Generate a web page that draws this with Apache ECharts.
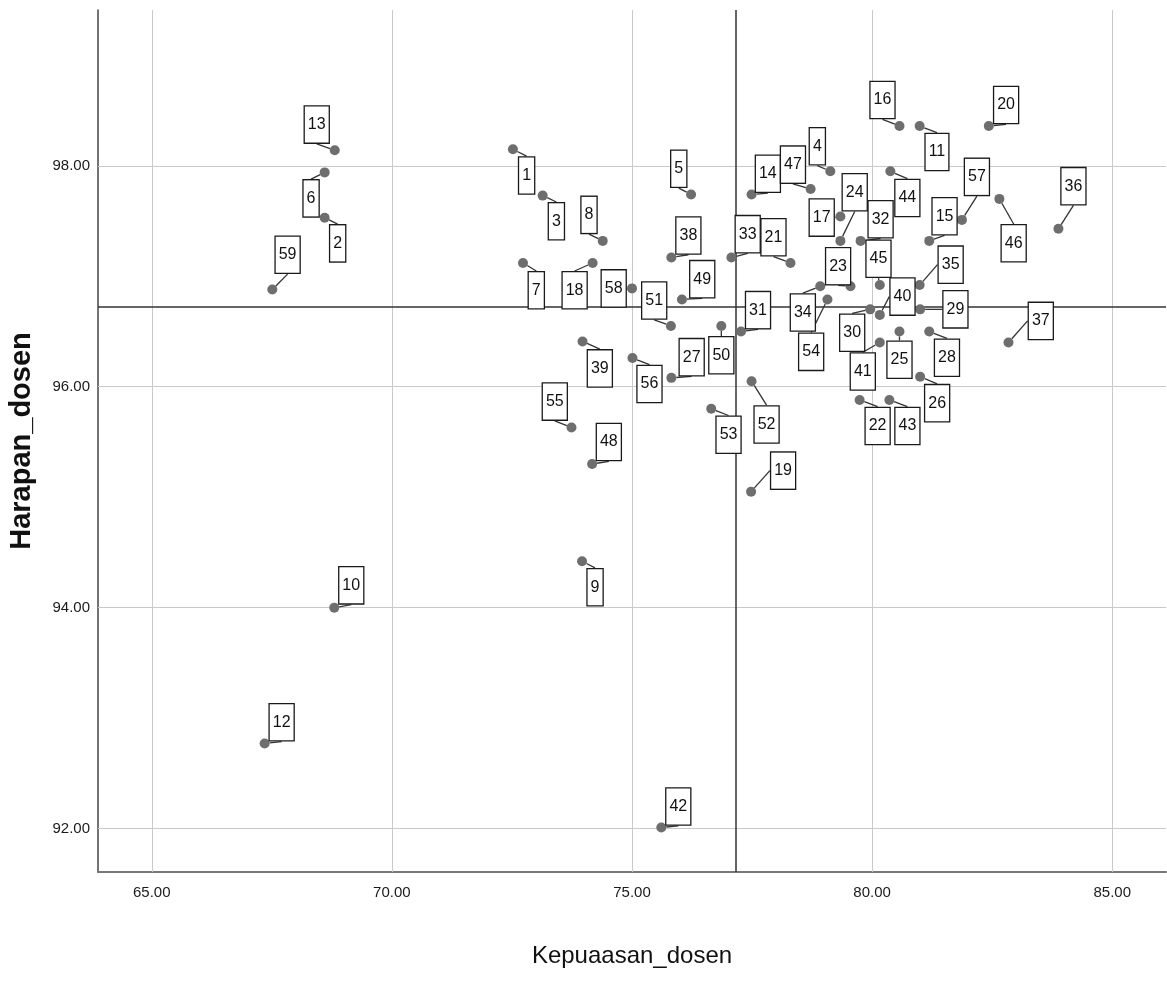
<!DOCTYPE html>
<html>
<head>
<meta charset="utf-8">
<script src="https://cdn.jsdelivr.net/npm/echarts@6/dist/echarts.min.js"></script>
<style>
html,body{margin:0;padding:0;background:#fff;}
#chart{width:1167px;height:991px;}
</style>
</head>
<body>
<div id="chart"></div>
<script>
// ---- data ----
const caseIds = [1,2,3,4,5,6,7,8,9,10,11,12,13,14,15,16,17,18,19,20,21,22,23,24,25,26,27,28,29,30,31,32,33,34,35,36,37,38,39,40,41,42,43,44,45,46,47,48,49,50,51,52,53,54,55,56,57,58,59];
const kepuaasanDosen = [72.52,68.60,73.14,79.13,76.23,68.60,72.73,74.39,73.96,68.80,80.99,67.35,68.81,77.49,81.19,80.57,79.34,74.18,77.48,82.43,78.30,79.74,79.55,79.34,80.57,81.00,75.82,81.19,81.00,79.96,77.27,79.76,77.07,78.92,80.99,83.88,82.84,75.82,73.97,80.16,80.16,75.61,80.36,80.38,80.16,82.65,78.72,74.17,76.04,76.86,75.81,77.49,76.65,79.07,73.74,75.01,81.87,75.00,67.51];
const harapanDosen = [98.15,97.53,97.73,97.95,97.74,97.94,97.12,97.32,94.42,94.00,98.36,92.77,98.14,97.74,97.32,98.36,97.54,97.12,95.05,98.36,97.12,95.88,96.91,97.32,96.50,96.09,96.08,96.50,96.70,96.70,96.50,97.32,97.17,96.91,96.92,97.43,96.40,97.17,96.41,96.65,96.40,92.01,95.88,97.95,96.92,97.70,97.79,95.30,96.79,96.55,96.55,96.05,95.80,96.79,95.63,96.26,97.51,96.89,96.88];
const xTickValues = [65, 70, 75, 80, 85];
const yTickValues = [92, 94, 96, 98];
const meanKepuaasan = 77.16;
const meanHarapan = 96.72;

// ---- label placement (pixel offsets of each case label from its point) ----
const labelOffsets = [
  [13.7,26.3],[13,25.7],[13.7,25.7],[-13,-25],[-12.3,-25.7],[-13.6,26],[13.3,27.3],[-13.7,-26],[13,26],[17,-22.3],
  [17.3,26],[17,-21.3],[-18,-25.7],[16.3,-20.7],[15.3,-24.7],[-17,-26],[-18.7,1],[-18,27.3],[32,-21],[17.3,-21],
  [-17,-25.7],[18,26],[-12.4,-20],[14.3,-48.7],[0,28.3],[17,26.4],[20.3,-20.7],[17.7,26.3],[35.3,0],[-18,23.4],
  [17,-21.3],[20,-21.7],[16.3,-23.3],[-17.4,26.3],[31,-20.4],[15,-42.6],[32.3,-21.6],[17,-22],[17.3,27],[22.7,-18.3],
  [-17,29],[17,-21],[18,26],[17,26.7],[-1.3,-26.3],[14.3,44.4],[-17.7,-24.3],[16.7,-22],[20.3,-20.3],[0,29.3],
  [-16.7,-25.4],[15,43.3],[17.3,26],[-16.3,52.4],[-16.7,-26],[17,26],[15,-43],[-18.3,0],[15.3,-34.7]
];

const points = caseIds.map((id, i) => [kepuaasanDosen[i], harapanDosen[i], id]);
const sans = '"Liberation Sans", Arial, sans-serif';

const chart = echarts.init(document.getElementById('chart'));
chart.setOption({
  animation: false,
  backgroundColor: '#ffffff',
  grid: { left: 98, right: 1, top: 10, bottom: 119, outerBoundsMode: 'none', containLabel: false },
  xAxis: {
    type: 'value',
    min: 63.88,
    max: 86.12,
    name: 'Kepuaasan_dosen',
    nameLocation: 'middle',
    nameGap: 72,
    nameTextStyle: { fontSize: 24, color: '#111', fontFamily: sans },
    axisLine: { show: true, lineStyle: { color: '#777', width: 2 } },
    axisTick: { show: false },
    splitLine: { show: false },
    axisLabel: {
      customValues: xTickValues,
      formatter: v => v.toFixed(2),
      fontSize: 15, color: '#1a1a1a', margin: 13, fontFamily: sans
    }
  },
  yAxis: {
    type: 'value',
    min: 91.607,
    max: 99.41,
    name: 'Harapan_dosen',
    nameLocation: 'middle',
    nameGap: 62,
    nameTextStyle: { fontSize: 29, fontWeight: 'bold', color: '#111', fontFamily: sans },
    axisLine: { show: true, lineStyle: { color: '#444', width: 1.5 } },
    axisTick: { show: false },
    splitLine: { show: false },
    axisLabel: {
      customValues: yTickValues,
      formatter: v => v.toFixed(2),
      fontSize: 15, color: '#1a1a1a', margin: 8, fontFamily: sans
    }
  },
  series: [
    {
      name: 'grid',
      type: 'scatter',
      data: [],
      silent: true,
      z: 1,
      markLine: {
        silent: true,
        symbol: 'none',
        animation: false,
        label: { show: false },
        lineStyle: { color: '#c9c9c9', width: 1, type: 'solid' },
        data: xTickValues.map(v => ({ xAxis: v })).concat(yTickValues.map(v => ({ yAxis: v })))
      }
    },
    {
      name: 'mean',
      type: 'scatter',
      data: [],
      silent: true,
      z: 2,
      markLine: {
        silent: true,
        symbol: 'none',
        animation: false,
        label: { show: false },
        lineStyle: { color: '#333', width: 1.5, type: 'solid' },
        data: [{ xAxis: meanKepuaasan }, { yAxis: meanHarapan }]
      }
    },
    {
      name: 'cases',
      type: 'scatter',
      z: 5,
      symbol: 'circle',
      symbolSize: 10,
      itemStyle: { color: '#6e6e6e', opacity: 1 },
      data: points,
      label: {
        show: true,
        position: 'inside',
        formatter: p => String(p.data[2]),
        fontSize: 16,
        fontFamily: sans,
        color: '#111',
        backgroundColor: '#ffffff',
        borderColor: '#1a1a1a',
        borderWidth: 1.3,
        padding: [10, 3, 10, 3],
        lineHeight: 16
      },
      labelLine: { show: true, lineStyle: { color: '#333', width: 1.3 } },
      labelLayout: p => ({ dx: labelOffsets[p.dataIndex][0], dy: labelOffsets[p.dataIndex][1] }),
      emphasis: { disabled: true }
    }
  ]
});
</script>
</body>
</html>
